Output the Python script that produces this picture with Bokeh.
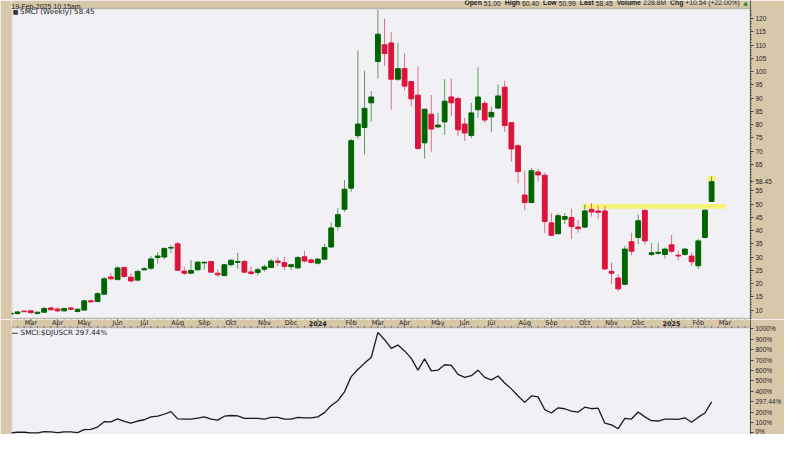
import datetime as dt
from bokeh.plotting import figure
from bokeh.models import (ColumnDataSource, Range1d, FixedTicker, Label,
                          BoxAnnotation, PrintfTickFormatter)
from bokeh.layouts import column
from bokeh.embed import file_html
from bokeh.resources import INLINE

# ---------------- data (weekly SMCI candles, split adjusted) ----------------
FIRST_WEEK = dt.date(2023, 2, 13)

opens = [8.5, 8.7, 9.6, 9.7, 8.7, 9.2, 10.8, 10.4, 9.7, 10.8,
         9.5, 10.0, 13.5, 13.2, 16.0, 22.5, 21.5, 26.1, 22.4, 21.3,
         25.2, 25.8, 29.8, 30.0, 33.4, 35.0, 24.7, 23.9, 25.2, 27.8,
         28.3, 23.9, 23.0, 27.1, 28.0, 28.3, 24.4, 24.2, 25.4, 26.1,
         28.5, 27.9, 26.4, 25.9, 30.1, 28.9, 27.7, 29.2, 33.8, 41.5,
         48.0, 56.0, 75.8, 78.9, 88.2, 103.8, 110.1, 110.8, 97.1, 101.1,
         96.2, 91.1, 73.1, 83.9, 79.1, 81.0, 90.4, 89.8, 80.2, 75.9,
         85.6, 88.0, 82.9, 86.2, 94.1, 80.7, 72.0, 53.4, 50.6, 62.1,
         60.9, 42.9, 38.8, 44.3, 44.9, 41.3, 41.3, 48.0, 47.4, 47.4,
         24.6, 22.1, 19.7, 35.8, 37.4, 47.6, 31.0, 31.4, 31.0, 34.6,
         30.7, 31.0, 30.4, 26.7, 37.4, 51.00]
highs = [9.0, 9.6, 9.8, 10.0, 9.4, 11.2, 11.2, 11.0, 10.9, 11.2,
         10.6, 13.8, 14.0, 16.8, 22.5, 24.0, 26.5, 26.3, 23.9, 25.0,
         26.2, 30.3, 31.8, 33.7, 34.5, 35.7, 26.3, 28.9, 28.3, 28.5,
         28.5, 25.4, 27.4, 29.2, 31.6, 29.0, 26.3, 26.0, 27.2, 29.3,
         30.0, 30.0, 27.5, 30.4, 32.3, 29.5, 29.7, 35.0, 43.0, 48.5,
         59.0, 74.6, 108.0, 100.3, 92.6, 123.2, 119.9, 114.9, 110.8, 106.8,
         96.5, 102.0, 85.8, 91.1, 84.4, 97.1, 97.3, 90.5, 82.5, 88.2,
         101.6, 89.0, 86.8, 95.1, 96.5, 80.9, 72.8, 62.5, 63.6, 63.3,
         61.9, 46.5, 46.5, 46.7, 48.2, 44.1, 49.8, 50.4, 49.4, 49.4,
         27.9, 23.5, 34.3, 39.2, 46.1, 48.0, 35.3, 35.5, 33.6, 38.3,
         32.4, 33.5, 31.8, 36.8, 48.0, 60.40]
lows = [8.3, 8.3, 9.2, 8.7, 8.4, 9.0, 9.9, 9.2, 9.5, 10.0,
        9.2, 9.8, 12.8, 13.0, 15.8, 21.2, 21.2, 22.2, 20.5, 20.8,
        24.8, 25.1, 27.6, 29.2, 31.5, 24.8, 23.2, 23.6, 24.9, 25.3,
        24.1, 22.5, 22.8, 26.5, 25.5, 24.0, 23.2, 23.0, 24.5, 25.9,
        26.6, 25.1, 25.1, 25.7, 28.0, 27.6, 27.2, 28.9, 33.5, 40.0,
        47.0, 54.5, 74.6, 68.8, 81.0, 97.3, 102.2, 85.6, 96.5, 92.9,
        86.8, 70.5, 67.1, 69.8, 78.6, 76.1, 83.2, 75.7, 73.8, 74.9,
        82.5, 80.6, 77.1, 85.8, 77.3, 66.1, 57.9, 47.7, 50.3, 58.5,
        39.1, 37.9, 38.5, 42.5, 36.8, 39.2, 40.9, 45.3, 44.3, 25.3,
        19.8, 17.0, 19.6, 30.7, 34.9, 34.7, 30.4, 30.8, 29.5, 31.6,
        28.8, 30.5, 26.7, 25.5, 37.0, 50.99]
closes = [8.8, 9.3, 9.4, 9.0, 9.2, 10.6, 10.1, 9.7, 10.6, 10.3,
          10.3, 13.5, 13.1, 16.2, 21.8, 21.8, 25.9, 22.7, 21.0, 24.6,
          25.6, 29.3, 30.4, 33.2, 33.6, 25.0, 23.9, 24.9, 28.1, 28.0,
          24.3, 23.3, 27.1, 28.8, 28.3, 24.3, 23.8, 25.2, 26.3, 28.5,
          28.0, 26.5, 27.1, 29.8, 28.5, 28.0, 29.2, 33.6, 41.0, 46.0,
          55.6, 73.9, 80.2, 86.1, 90.4, 114.1, 106.8, 97.1, 101.1, 94.5,
          89.7, 71.0, 85.8, 78.3, 79.8, 88.8, 88.2, 78.0, 76.8, 84.4,
          90.4, 81.7, 84.6, 90.8, 79.6, 70.8, 62.3, 50.6, 62.6, 61.0,
          43.4, 38.2, 45.6, 45.3, 41.5, 40.7, 47.4, 47.0, 46.9, 25.5,
          23.9, 18.0, 33.0, 32.2, 43.7, 36.1, 31.6, 31.8, 33.0, 32.2,
          30.4, 33.0, 28.2, 36.1, 47.7, 58.45]

# SMCI:$DJUSCR relative performance, percent
ratio_pct = [0, 6, 6, 0, 0, 12, 9, 3, 9, 9, 3,
             31, 33, 56, 108, 105, 135, 111, 93, 114, 126,
             154, 160, 179, 204, 135, 133, 133, 142, 154, 133,
             123, 160, 167, 163, 139, 139, 139, 133, 148, 148,
             133, 133, 148, 145, 145, 154, 195, 263, 309, 395,
             541, 609, 671, 725, 967, 896, 813, 844, 788, 717,
             603, 711, 596, 603, 655, 649, 562, 534, 550, 603,
             534, 510, 547, 479, 423, 355, 293, 355, 346, 223,
             191, 241, 232, 210, 200, 247, 232, 237, 93, 77,
             40, 139, 133, 200, 154, 117, 114, 133, 133, 130,
             145, 102, 151, 191, 297.44]

price_ticks = list(range(10, 125, 5))
ratio_ticks = list(range(0, 1100, 100))

header_date = "19-Feb-2025 10:15am"
header_items = [("Open", "51.00"), ("High", "60.40"), ("Low", "50.99"),
                ("Last", "58.45"), ("Volume", "228.8M"), ("Chg", "+10.54 (+22.00%)")]
main_title = "SMCI (Weekly) 58.45"
lower_title = "SMCI:$DJUSCR 297.44%"
last_price = closes[-1]
last_ratio = ratio_pct[-1]
band = (85.7, 107.1, 48.2, 50.0)       # highlighted resistance zone
hl_box = (104.4, 105.6, 58.5, 60.6)    # highlight of latest high

# ---------------- layout helpers (reference pixel -> data) ----------------
W, H1, H2 = 784, 319, 115
SX, SY = W / 800, 434 / 450


def X(xr):
    return (xr - 10.5) / 6.82


def Y1(yr):
    return 120 - (yr - 18.7) / 2.748


def Y2(yr):
    return (448.3 - yr) / 0.1078


# approximate Arial / Liberation Sans advance widths (em) for laying out the header
REG_W = dict({str(d): 0.556 for d in range(10)}, **{".": 0.278, "+": 0.584, "(": 0.333,
                                                     ")": 0.333, "%": 0.889, "M": 0.833, " ": 0.278})
BOLD_W = {"O": 0.778, "p": 0.611, "e": 0.556, "n": 0.611, "H": 0.722, "i": 0.278, "g": 0.611,
          "h": 0.611, "L": 0.611, "o": 0.611, "w": 0.778, "a": 0.556, "s": 0.556, "t": 0.333,
          "V": 0.667, "l": 0.278, "u": 0.611, "m": 0.889, "C": 0.722}


def text_w(s, table):
    return sum(table.get(ch, 0.6) for ch in s)


BG = "#d8c8aa"
PLOT_BG = "#f0f0f5"
GREEN = "#006400"
RED = "#dc143c"
TXT = "#222222"
EDGE = "#555555"
FONT = "DejaVu Sans"
AXFONT = "Liberation Sans"

n = len(opens)
idx = list(range(n))
up = [c >= o for o, c in zip(opens, closes)]
src = ColumnDataSource(dict(
    x=idx, o=opens, h=highs, l=lows, c=closes,
    top=[max(o, c) for o, c in zip(opens, closes)],
    bot=[min(o, c) for o, c in zip(opens, closes)],
    col=[GREEN if u else RED for u in up],
))

x_range = Range1d(X(11 / SX), X((W - 33) / SX))
PANEL_TOP, PANEL_BOT = 8.3, 329.7     # reference px of the price panel edges
STRIP_BOT = 339.06

# ---------------- main price panel ----------------
p1 = figure(width=W, height=H1, x_range=x_range,
            y_range=Range1d(Y1(H1 / SY), Y1(0)),
            y_axis_location="right", title=None, toolbar_location=None,
            output_backend="svg", min_border_left=11, min_border_right=33,
            min_border_top=0, min_border_bottom=0)
p1.background_fill_color = PLOT_BG
p1.border_fill_color = BG
p1.outline_line_color = None
p1.grid.visible = False
p1.xaxis.visible = False

# tan header row inside the frame
p1.add_layout(BoxAnnotation(bottom=Y1(PANEL_TOP), fill_color=BG, fill_alpha=1,
                            line_color=None, level="underlay"))
p1.add_layout(BoxAnnotation(top=Y1(PANEL_BOT), fill_color=BG, fill_alpha=1,
                            line_color=None, level="underlay"))
p1.add_layout(BoxAnnotation(left=band[0], right=band[1], bottom=band[2], top=band[3],
                            fill_color="#f7f74a", fill_alpha=0.75, line_color=None,
                            level="underlay"))
p1.add_layout(BoxAnnotation(left=hl_box[0], right=hl_box[1], bottom=hl_box[2], top=hl_box[3],
                            fill_color="#f7f74a", fill_alpha=0.75, line_color=None,
                            level="underlay"))

p1.segment(x0="x", x1="x", y0="l", y1="h", source=src, line_color="col",
           line_alpha=0.6, line_width=1)
p1.vbar(x="x", width=0.72, top="top", bottom="bot", source=src,
        fill_color="col", line_color="col", line_width=1)

# panel border
p1.add_layout(BoxAnnotation(top=Y1(PANEL_TOP), bottom=Y1(PANEL_BOT), fill_alpha=0,
                            line_color=EDGE, line_width=1.5))

# header texts
p1.add_layout(Label(x=X(11), y=Y1(6), text=header_date, text_font=AXFONT,
                    text_font_size="7px", text_color=TXT, text_baseline="alphabetic"))
HFS = 6.8
cur = 474 * SX
for a, b in header_items:
    p1.add_layout(Label(x=X(cur / SX), y=Y1(6), text=a, text_font=AXFONT,
                        text_font_size=f"{HFS}px", text_font_style="bold", text_color=TXT))
    cur += (text_w(a, BOLD_W) + 0.3) * HFS
    p1.add_layout(Label(x=X(cur / SX), y=Y1(6), text=b, text_font=AXFONT,
                        text_font_size=f"{HFS}px", text_color=TXT))
    cur += (text_w(b, REG_W) + 0.6) * HFS
p1.add_layout(Label(x=X(759), y=Y1(6), text="\u25b2", text_font=FONT,
                    text_font_size="6px", text_color="#2a8a2a"))

p1.add_layout(Label(x=X(12.5), y=Y1(11.5), text="\u25a0", text_font=FONT,
                    text_font_size="6px", text_color="#333333", text_baseline="middle"))
p1.add_layout(Label(x=X(20), y=Y1(11.5), text=main_title, text_font=FONT,
                    text_font_size="7.2px", text_color=TXT, text_baseline="middle"))

# right price axis (last price replaces the hidden 60 label)
p_ticks = [t for t in price_ticks if t != 60] + [last_price]
p1.yaxis.ticker = FixedTicker(ticks=p_ticks, minor_ticks=list(range(7, 124)))
p1.yaxis.major_label_overrides = {last_price: "58.45"}
p1.yaxis.major_label_text_font = AXFONT
p1.yaxis.major_label_text_font_size = "6.5px"
p1.yaxis.major_label_text_color = TXT
p1.yaxis.major_label_standoff = 2
p1.yaxis.major_tick_out = 3
p1.yaxis.major_tick_in = 0
p1.yaxis.minor_tick_out = 1
p1.yaxis.minor_tick_in = 0
p1.yaxis.axis_line_color = EDGE
p1.yaxis.major_tick_line_color = "#444444"
p1.yaxis.minor_tick_line_color = "#444444"

# ---------------- month strip + lower ratio panel ----------------
p2 = figure(width=W, height=H2, x_range=x_range,
            y_range=Range1d(Y2(450), Y2(H1 / SY)),
            y_axis_location="right", title=None, toolbar_location=None,
            output_backend="svg", min_border_left=11, min_border_right=33,
            min_border_top=0, min_border_bottom=0)
p2.background_fill_color = PLOT_BG
p2.border_fill_color = BG
p2.outline_line_color = None
p2.grid.visible = False
p2.xaxis.visible = False

p2.add_layout(BoxAnnotation(bottom=Y2(STRIP_BOT), fill_color=BG, fill_alpha=1,
                            line_color=None, level="underlay"))
p2.add_layout(BoxAnnotation(top=Y2(STRIP_BOT), bottom=Y2(455), fill_alpha=0,
                            line_color=EDGE, line_width=1.5))

# month ticks / labels
month_ticks, month_labels = [], []
k = 0
while k <= x_range.end:
    d = FIRST_WEEK + dt.timedelta(weeks=k)
    if d.day <= 7:
        month_ticks.append(k)
        month_labels.append(str(d.year) if d.month == 1 else d.strftime("%b"))
    k += 1
week_ticks = list(range(0, int(x_range.end) + 1))

p2.segment(x0=week_ticks, x1=week_ticks, y0=[Y2(PANEL_BOT - 1)] * len(week_ticks),
           y1=[Y2(PANEL_BOT + 1.2)] * len(week_ticks), line_color="#444444", line_width=1)
p2.segment(x0=week_ticks, x1=week_ticks, y0=[Y2(STRIP_BOT)] * len(week_ticks),
           y1=[Y2(STRIP_BOT - 1.2)] * len(week_ticks), line_color="#444444", line_width=1)
p2.segment(x0=month_ticks, x1=month_ticks, y0=[Y2(PANEL_BOT - 1)] * len(month_ticks),
           y1=[Y2(PANEL_BOT + 2.5)] * len(month_ticks), line_color="#444444", line_width=1)

for t, lab in zip(month_ticks, month_labels):
    p2.add_layout(Label(x=t, y=Y2(334.6), text=lab, text_align="center",
                        text_baseline="middle", text_font=FONT, text_font_size="6.5px",
                        text_font_style="bold" if lab.isdigit() else "normal",
                        text_color=TXT))

p2.line(idx, ratio_pct, line_color="#1a1a1a", line_width=1.3)

r_ticks = [t for t in ratio_ticks if t != 300] + [last_ratio]
p2.yaxis.ticker = FixedTicker(ticks=r_ticks, minor_ticks=[])
p2.yaxis.formatter = PrintfTickFormatter(format="%d%%")
p2.yaxis.major_label_overrides = {last_ratio: "297.44%"}
p2.yaxis.major_label_text_font = AXFONT
p2.yaxis.major_label_text_font_size = "6.5px"
p2.yaxis.major_label_text_color = TXT
p2.yaxis.major_label_standoff = 2
p2.yaxis.major_tick_out = 3
p2.yaxis.major_tick_in = 0
p2.yaxis.axis_line_color = EDGE
p2.yaxis.major_tick_line_color = "#444444"

p2.add_layout(Label(x=X(11.5), y=Y2(344.5), text="\u2014", text_font=FONT,
                    text_font_size="6.5px", text_font_style="bold",
                    text_color="#111111", text_baseline="middle"))
p2.add_layout(Label(x=X(20.5), y=Y2(344.5), text=lower_title, text_font=FONT,
                    text_font_size="7.2px", text_color=TXT, text_baseline="middle"))

layout = column(p1, p2, spacing=0)
open("out.html", "w").write(file_html(layout, INLINE))
